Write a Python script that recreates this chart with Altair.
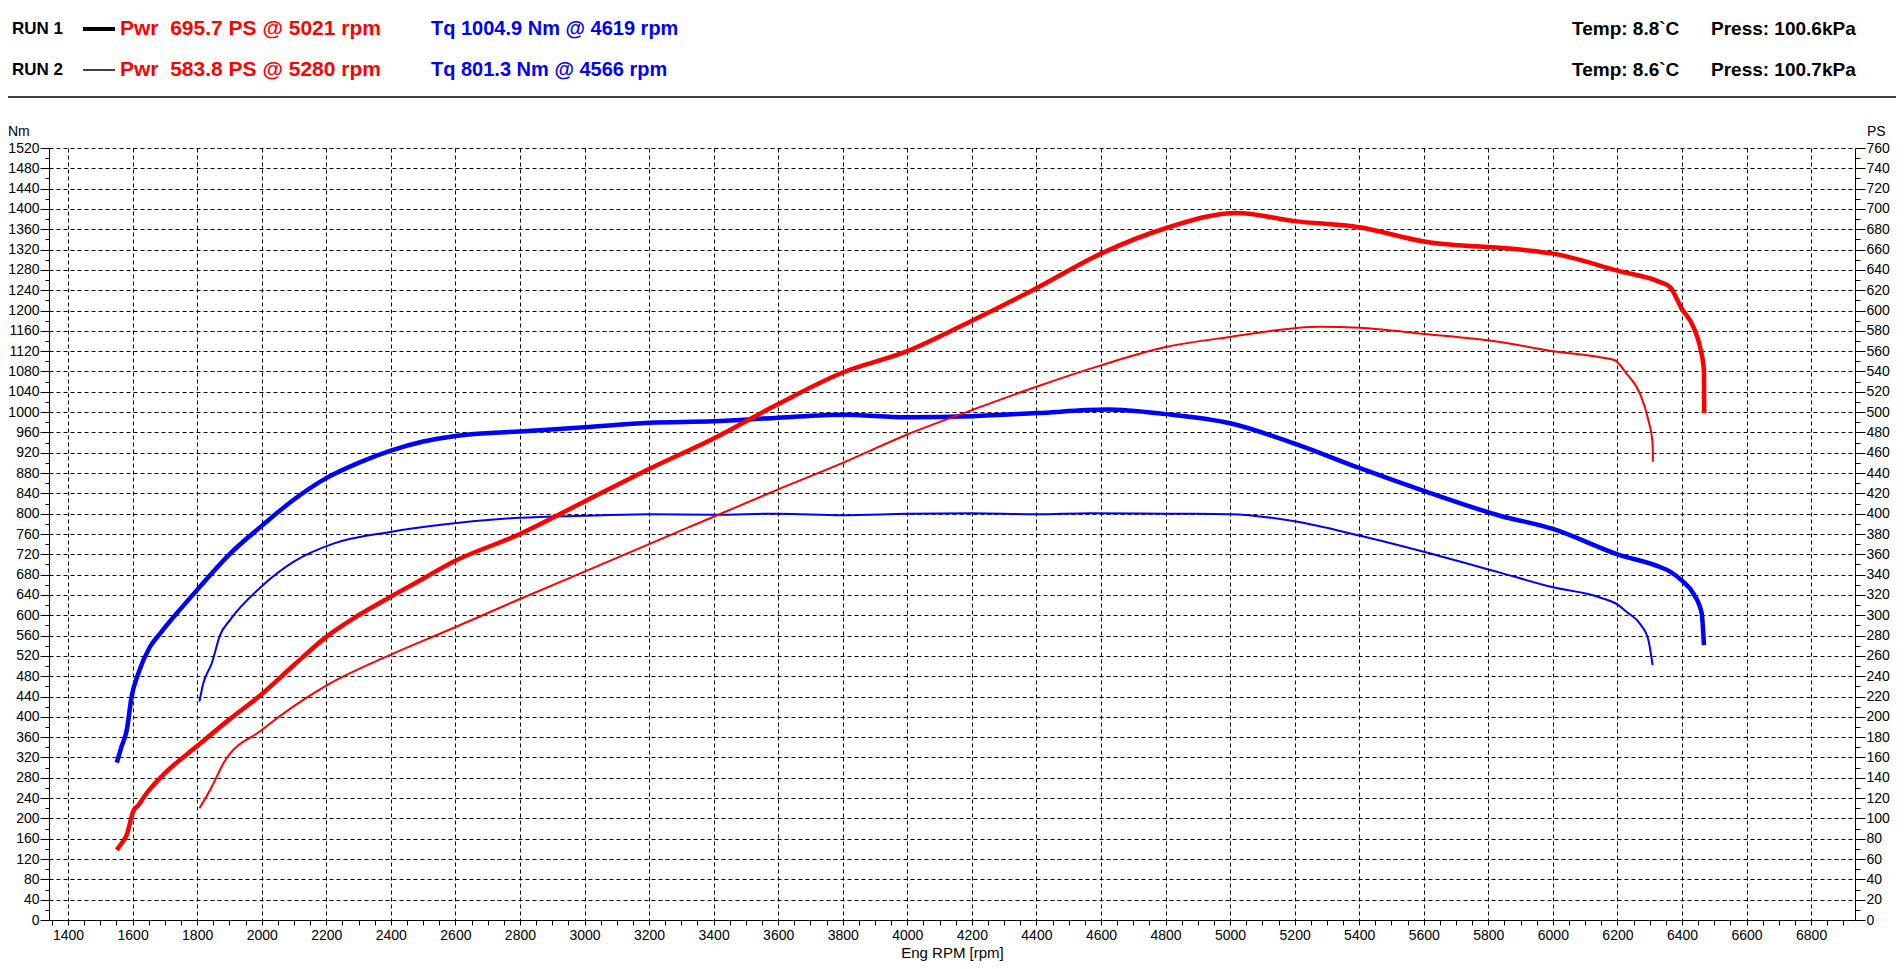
import altair as alt
import pandas as pd

# ---------------- data ----------------
run1_tq_rpm = [1551, 1565, 1582, 1597, 1618, 1654, 1685, 1737, 1800, 1900, 2000, 2100, 2200, 2300,
               2400, 2500, 2600, 2800, 3000, 3200, 3400, 3600, 3800, 4000, 4200, 4400, 4619, 4800,
               5000, 5200, 5400, 5600, 5836, 6000, 6200, 6332, 6363, 6400, 6435, 6461, 6468]
run1_tq = [310, 340, 374, 440, 486, 538, 564, 604, 650, 720, 776, 828, 870, 900,
           924, 942, 953, 962, 970, 979, 982, 989, 995, 990, 992, 998, 1005, 996,
           978, 938, 890, 845, 796, 770, 720, 695, 686, 668, 643, 604, 541]

run1_pw_rpm = [1551, 1565, 1582, 1602, 1618, 1644, 1695, 1799, 1902, 1995, 2100, 2201, 2300, 2398,
               2500, 2583, 2800, 3000, 3200, 3400, 3600, 3800, 4000, 4200, 4400, 4600, 4800, 5021,
               5200, 5400, 5600, 5898, 6001, 6203, 6332, 6363, 6399, 6435, 6456, 6468, 6469]
run1_pw = [69, 75, 84, 107, 113, 125, 143, 171, 198, 221, 251, 279, 300, 318,
           336, 351, 380, 412, 444, 474, 508, 539, 560, 590, 622, 656, 681, 696,
           688, 682, 668, 660, 656, 639, 628, 623, 602, 584, 564, 541, 499]

run2_tq_rpm = [1807, 1819, 1845, 1871, 1902, 2000, 2098, 2222, 2398, 2583, 2800, 3000, 3200, 3400,
               3600, 3800, 4000, 4200, 4400, 4566, 4800, 5000, 5200, 5400, 5600, 5836, 6001, 6146,
               6203, 6228, 6270, 6296, 6309]
run2_tq = [430, 466, 505, 561, 591, 657, 705, 741, 764, 780, 792, 796, 799, 798,
           800, 797, 800, 801, 799, 801, 800, 799, 785, 757, 725, 684, 655, 635,
           620, 607, 583, 551, 502]

run2_pw_rpm = [1807, 1845, 1881, 2000, 2201, 2398, 2583, 2800, 3000, 3200, 3400, 3600, 3800, 4000,
               4200, 4400, 4600, 4800, 5000, 5280, 5400, 5600, 5836, 6001, 6146, 6192, 6228, 6270,
               6296, 6309, 6310]
run2_pw = [110, 131, 154, 187, 231, 261, 286, 316, 343, 370, 397, 424, 450, 478,
           502, 525, 546, 564, 574, 584, 583, 577, 569, 560, 554, 551, 538, 518,
           492, 469, 451]

runs = ["RUN 1", "RUN 2"]
pwr_texts = ["Pwr\u00a0\u00a0695.7 PS @ 5021 rpm", "Pwr\u00a0\u00a0583.8 PS @ 5280 rpm"]
tq_texts = ["Tq 1004.9 Nm @ 4619 rpm", "Tq 801.3 Nm @ 4566 rpm"]
temp_texts = ["Temp: 8.8`C", "Temp: 8.6`C"]
press_texts = ["Press: 100.6kPa", "Press: 100.7kPa"]

x_domain = [1341, 6936]
nm_domain = [0, 1520]
ps_domain = [0, 760]
x_title = "Eng RPM [rpm]"


def frame(rpm, vals, run, field):
    return pd.DataFrame({"rpm": rpm, field: vals, "run": run, "order": list(range(len(rpm)))})


tq_df = pd.concat([frame(run1_tq_rpm, run1_tq, runs[0], "nm"),
                   frame(run2_tq_rpm, run2_tq, runs[1], "nm")], ignore_index=True)
pw_df = pd.concat([frame(run1_pw_rpm, run1_pw, runs[0], "ps"),
                   frame(run2_pw_rpm, run2_pw, runs[1], "ps")], ignore_index=True)

W, H = 1806, 772
FONT = "Liberation Sans"
DASH = [4, 3]

x_enc = alt.X(
    "rpm:Q",
    scale=alt.Scale(domain=x_domain, nice=False, zero=False),
    axis=alt.Axis(
        values=list(range(1350, 6936, 50)),
        format="d",
        labelExpr="datum.value % 200 === 0 ? datum.label : ''",
        labelFlush=False,
        labelOverlap=False,
        grid=True,
        gridColor="black",
        gridDash=DASH,
        gridWidth=1,
        gridOpacity={"condition": {"test": "datum.value % 200 === 0", "value": 1}, "value": 0},
        tickSize=5,
        tickColor="black",
        domainColor="black",
        labelFont=FONT,
        labelFontSize=14,
        labelColor="black",
        labelPadding=3,
        title=x_title,
        titleFont=FONT,
        titleFontSize=15,
        titleFontWeight="normal",
        titleColor="black",
        titlePadding=3,
    ),
)

width_enc = alt.StrokeWidth("run:N", scale=alt.Scale(domain=runs, range=[4.5, 2]), legend=None)

torque = alt.Chart(tq_df).mark_line(color="#0000FF", strokeJoin="round", strokeCap="butt",
                                    interpolate="monotone").encode(
    x=x_enc,
    y=alt.Y(
        "nm:Q",
        scale=alt.Scale(domain=nm_domain, nice=False),
        axis=alt.Axis(
            orient="left",
            values=list(range(0, 1521, 20)),
            format="d",
            labelExpr="datum.value % 40 === 0 ? datum.label : ''",
            labelOverlap=False,
            labelFlush=False,
            grid=True,
            gridColor="black",
            gridDash=DASH,
            gridWidth=1,
            gridOpacity={"condition": {"test": "datum.value % 40 === 0 && datum.value > 0", "value": 1}, "value": 0},
            tickSize={"condition": {"test": "datum.value % 40 === 0", "value": 9}, "value": 4},
            tickColor="black",
            domainColor="black",
            labelFont=FONT,
            labelFontSize=14,
            labelColor="black",
            labelPadding=1,
            title=None,
        ),
    ),
    strokeWidth=width_enc,
    detail="run:N",
    order="order:Q",
)

power = alt.Chart(pw_df).mark_line(color="#FF0000", strokeJoin="round", strokeCap="butt",
                                   interpolate="monotone").encode(
    x=x_enc,
    y=alt.Y(
        "ps:Q",
        scale=alt.Scale(domain=ps_domain, nice=False),
        axis=alt.Axis(
            orient="right",
            values=list(range(0, 761, 10)),
            format="d",
            labelExpr="datum.value % 20 === 0 ? datum.label : ''",
            labelOverlap=False,
            labelFlush=False,
            grid=False,
            tickSize={"condition": {"test": "datum.value % 20 === 0", "value": 10}, "value": 5},
            tickColor="black",
            domainColor="black",
            labelFont=FONT,
            labelFontSize=14,
            labelColor="black",
            labelPadding=1,
            title=None,
        ),
    ),
    strokeWidth=width_enc,
    detail="run:N",
    order="order:Q",
)


def label(text, x, y, size=14, weight="normal", color="black"):
    return alt.Chart(pd.DataFrame({"t": [text]})).mark_text(
        align="left", baseline="middle", font=FONT, fontSize=size, fontWeight=weight, color=color
    ).encode(x=alt.value(x), y=alt.value(y), text="t:N")


one = pd.DataFrame({"k": [0]})
rows_y = [-119, -78]
layers = [torque, power]
for i in range(2):
    y = rows_y[i]
    layers.append(label(runs[i], -37, y, size=17, weight="bold"))
    layers.append(label(pwr_texts[i], 71, y, size=21, weight="bold", color="#FF0000"))
    layers.append(label(tq_texts[i], 382, y, size=20, weight="bold", color="#0000FF"))
    layers.append(label(temp_texts[i], 1523, y, size=19, weight="bold"))
    layers.append(label(press_texts[i], 1662, y, size=19, weight="bold"))
    layers.append(
        alt.Chart(one).mark_rule(color="black", strokeWidth=4 if i == 0 else 1.5).encode(
            x=alt.value(34), x2=alt.value(66), y=alt.value(y)
        )
    )

layers.append(
    alt.Chart(one).mark_rule(color="black", strokeWidth=1.5).encode(
        x=alt.value(-49), x2=alt.value(1860), y=alt.value(-51)
    )
)
layers.append(label("Nm", -41, -16, size=14))
layers.append(label("PS", 1818, -16, size=14))

chart = (
    alt.layer(*layers)
    .resolve_scale(y="independent", strokeWidth="shared")
    .properties(
        width=W,
        height=H,
        padding={"left": 41, "top": 140, "right": 41, "bottom": 46},
        autosize=alt.AutoSizeParams(type="none"),
        background="white",
    )
    .configure_view(strokeWidth=0)
)

chart.save("out.html", embed_options={"renderer": "svg", "actions": False})
